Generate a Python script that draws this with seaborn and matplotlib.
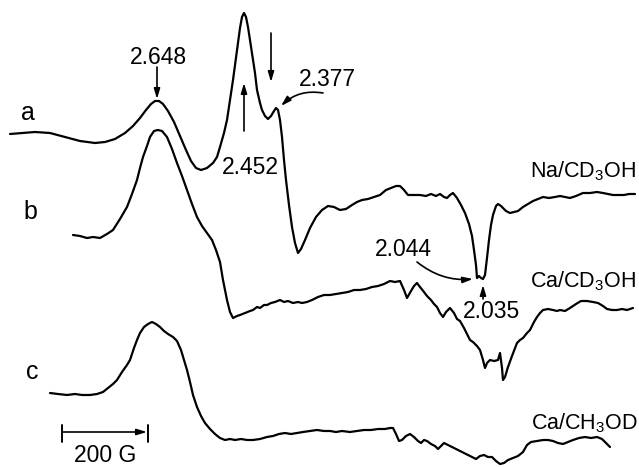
import matplotlib
matplotlib.use("Agg")
import matplotlib.pyplot as plt
import pandas as pd
import seaborn as sns

# --- EPR derivative traces (field position, signal height) ---
a_x = [10, 22, 35, 50, 65, 80, 95, 105, 115, 125, 133, 140, 146, 151, 155, 159, 163, 168, 174, 180,
       186, 191, 196, 201, 207, 213, 217, 220, 224, 227, 230, 233, 236, 238, 240, 242, 244, 246, 248, 250,
       252, 255, 257, 260, 262, 265, 268, 271, 274, 276, 278, 280, 282, 284, 286, 289, 292, 295, 298, 301,
       305, 310, 316, 322, 328, 334, 340, 346, 352, 357, 362, 368, 374, 380, 386, 391, 396, 400, 404, 408,
       414, 420, 426, 431, 436, 440, 444, 447, 450, 453, 457, 461, 465, 469, 472, 474, 476, 477, 479, 481,
       483, 485, 487, 489, 491, 493, 496, 498, 501, 503, 506, 510, 514, 518, 523, 528, 533, 538, 543, 549,
       555, 560, 565, 570, 576, 583, 590, 597, 603, 608, 613, 618, 624, 629, 635]
a_y = [134, 133, 132, 133, 137, 141, 143, 142, 139, 133, 126, 118, 110, 104, 101, 101, 104, 111, 122, 136,
       150, 161, 168, 170, 168, 163, 157, 147, 133, 120, 100, 80, 58, 43, 28, 17, 13, 17, 27, 40,
       53, 73, 90, 103, 110, 116, 119, 116, 111, 108, 110, 120, 137, 160, 180, 205, 227, 243, 253, 249,
       240, 228, 217, 210, 206, 207, 210, 209, 205, 202, 200, 199, 197, 195, 190, 188, 186, 186, 190, 195,
       195, 195, 196, 194, 196, 194, 197, 198, 195, 193, 198, 205, 213, 224, 236, 250, 265, 278, 276, 278,
       279, 275, 258, 240, 225, 215, 206, 204, 206, 208, 211, 213, 212, 211, 207, 204, 201, 199, 197, 198,
       197, 196, 197, 198, 196, 193, 193, 192, 193, 194, 195, 195, 195, 194, 194]

b_x = [73, 80, 87, 93, 100, 107, 113, 120, 127, 132, 137, 140, 143, 147, 150, 154, 158, 162, 167, 172,
       177, 182, 187, 192, 197, 202, 207, 212, 216, 220, 223, 227, 230, 233, 237, 240, 245, 250, 253, 257,
       260, 264, 267, 271, 275, 280, 284, 288, 293, 298, 302, 307, 312, 318, 324, 330, 336, 342, 348, 354,
       360, 366, 372, 378, 384, 390, 395, 400, 404, 407, 411, 414, 417, 420, 424, 427, 431, 434, 437, 440,
       443, 446, 450, 454, 457, 460, 464, 467, 470, 473, 477, 480, 483, 485, 487, 490, 494, 498, 500, 502,
       503, 505, 508, 512, 517, 520, 523, 527, 530, 534, 537, 540, 543, 548, 553, 557, 560, 565, 570, 576,
       581, 587, 593, 598, 603, 607, 612, 617, 622, 627, 633]
b_y = [235, 236, 238, 237, 238, 234, 230, 219, 207, 194, 180, 168, 157, 146, 137, 131, 130, 131, 137, 149,
       163, 176, 190, 204, 217, 226, 233, 240, 250, 262, 280, 300, 312, 318, 316, 315, 313, 311, 310, 307,
       308, 305, 305, 303, 302, 300, 302, 301, 303, 302, 303, 302, 300, 297, 295, 295, 294, 293, 292, 290,
       290, 289, 287, 286, 284, 281, 282, 281, 290, 298, 291, 286, 283, 287, 292, 296, 300, 304, 307, 313,
       317, 312, 308, 313, 319, 321, 328, 334, 340, 342, 346, 350, 360, 368, 363, 360, 361, 360, 353, 368,
       380, 377, 367, 356, 343, 340, 338, 333, 330, 322, 317, 313, 310, 309, 310, 311, 310, 311, 308, 304,
       301, 301, 302, 303, 306, 309, 310, 310, 309, 310, 308]

c_x = [50, 58, 67, 75, 82, 90, 97, 103, 108, 113, 117, 122, 127, 130, 134, 137, 140, 144, 148, 152,
       156, 160, 164, 168, 173, 177, 181, 184, 187, 190, 193, 197, 201, 205, 210, 215, 220, 225, 230, 235,
       241, 247, 253, 260, 267, 273, 279, 285, 291, 297, 303, 310, 317, 324, 330, 336, 342, 350, 357, 364,
       371, 378, 385, 390, 393, 396, 399, 402, 406, 410, 414, 418, 421, 424, 427, 431, 435, 438, 441, 444,
       448, 452, 456, 460, 464, 468, 472, 476, 480, 484, 488, 492, 496, 500, 504, 508, 513, 518, 523, 527,
       531, 537, 543, 548, 553, 558, 563, 568, 573, 579, 585, 591, 597, 602, 606, 610]
c_y = [393, 394, 395, 394, 395, 395, 394, 392, 388, 384, 380, 372, 365, 360, 348, 340, 333, 327, 324, 322,
       324, 327, 331, 334, 337, 341, 350, 360, 370, 382, 395, 407, 416, 423, 429, 434, 438, 440, 439, 440,
       439, 440, 440, 439, 437, 436, 434, 433, 434, 433, 432, 431, 430, 431, 431, 432, 431, 432, 431, 430,
       430, 429, 429, 428, 428, 434, 441, 440, 436, 434, 437, 441, 443, 440, 441, 444, 446, 449, 446, 443,
       445, 447, 449, 451, 453, 455, 457, 459, 456, 455, 457, 457, 461, 464, 463, 460, 458, 456, 452, 445,
       442, 441, 440, 440, 441, 443, 444, 442, 440, 438, 437, 438, 437, 439, 443, 447]

trace_labels = ["Na/CD$_3$OH", "Ca/CD$_3$OH", "Ca/CH$_3$OD"]
trace_letters = ["a", "b", "c"]
g_values = ["2.648", "2.452", "2.377", "2.044", "2.035"]
scale_text = "200 G"

sns.set_style("white")
plt.rcParams["font.family"] = ["Liberation Sans", "DejaVu Sans"]
plt.rcParams["mathtext.default"] = "regular"

fig = plt.figure(figsize=(6.39, 4.67), dpi=100)
ax = fig.add_axes([0, 0, 1, 1])

for xs, ys in [(a_x, a_y), (b_x, b_y), (c_x, c_y)]:
    df = pd.DataFrame({"field": xs, "signal": ys})
    sns.lineplot(data=df, x="field", y="signal", sort=False, estimator=None,
                 color="black", linewidth=1.6, ax=ax)

ax.set_xlim(0, 639)
ax.set_ylim(467, 0)
ax.set_axis_off()

fs = 16.5
txt = dict(color="black", fontsize=fs)

# trace letters
for lab, (x, y) in zip(trace_letters, [(28, 113), (30, 212), (32, 372)]):
    ax.text(x, y, lab, ha="center", va="center", color="black", fontsize=18)

# sample labels
for lab, (x, y) in zip(trace_labels, [(636, 171), (636, 281), (638, 423)]):
    ax.text(x, y, lab, ha="right", va="center", fontsize=15.5, color="black")

arrow = dict(arrowstyle="-|>,head_length=0.6,head_width=0.18", color="black", lw=1.2,
             shrinkA=0, shrinkB=0)

# g-value markers
ax.text(158, 57, g_values[0], ha="center", va="center", **txt)
ax.annotate("", xy=(157, 99), xytext=(157, 67), arrowprops=arrow)

ax.text(250, 167, g_values[1], ha="center", va="center", **txt)
ax.annotate("", xy=(244, 83), xytext=(244, 131), arrowprops=arrow)
ax.annotate("", xy=(271, 82), xytext=(271, 33), arrowprops=arrow)

ax.text(327, 79, g_values[2], ha="center", va="center", **txt)
ax.annotate("", xy=(281, 106), xytext=(323, 93),
            arrowprops=dict(arrow, connectionstyle="arc3,rad=0.25"))

ax.text(403, 249, g_values[3], ha="center", va="center", **txt)
ax.annotate("", xy=(473, 279), xytext=(417, 262),
            arrowprops=dict(arrow, connectionstyle="arc3,rad=0.2"))

ax.text(491, 312, g_values[4], ha="center", va="center", **txt)
ax.annotate("", xy=(483, 285), xytext=(483, 299), arrowprops=arrow)

# field scale bar
ax.annotate("", xy=(147, 432), xytext=(62, 432), arrowprops=arrow)
ax.plot([62, 62], [425, 442], color="black", lw=1.4)
ax.plot([148, 148], [425, 442], color="black", lw=1.4)
ax.text(105, 455, scale_text, ha="center", va="center", **txt)

fig.savefig("out.png", dpi=100)
